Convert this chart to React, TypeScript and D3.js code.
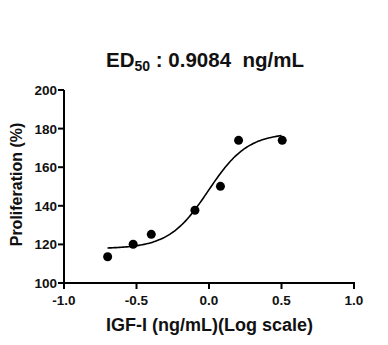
import React from "react";
import * as d3 from "d3";

const concLog: number[] = [-0.699, -0.523, -0.398, -0.097, 0.079, 0.204, 0.505];
const proliferation: number[] = [113.6, 120.1, 125.2, 137.7, 150.1, 173.9, 173.9];
const xTicks: number[] = [-1.0, -0.5, 0.0, 0.5, 1.0];
const yTicks: number[] = [100, 120, 140, 160, 180, 200];
// 4PL fit parameters
const fitBottom = 117.8;
const fitTop = 177.8;
const fitLogEC50 = -0.005;
const fitHill = 3.2;
const fitRange: [number, number] = [-0.7, 0.5];

const W = 388, H = 345;
const FONT = "'Liberation Sans', Arial, sans-serif";

export default function App() {
  const x = d3.scaleLinear().domain([-1, 1]).range([64, 354]);
  const y = d3.scaleLinear().domain([100, 200]).range([283, 90]);
  const fit = (v: number) => fitBottom + (fitTop - fitBottom) / (1 + Math.pow(10, (fitLogEC50 - v) * fitHill));
  const curvePts = d3.range(0, 101).map(i => {
    const v = fitRange[0] + (fitRange[1] - fitRange[0]) * i / 100;
    return [v, fit(v)] as [number, number];
  });
  const line = d3.line<[number, number]>().x(d => x(d[0])).y(d => y(d[1])).curve(d3.curveMonotoneX);
  return (
    <svg width={W} height={H} style={{ position: "absolute", left: 0, top: 0, background: "#fff" }} fontFamily={FONT}>
      <rect x={0} y={0} width={W} height={H} fill="#fff" />
      <text x={205} y={67} textAnchor="middle" fontSize={20.5} fontWeight="bold" fill="#111" xmlSpace="preserve">
        ED<tspan fontSize={14} dy={4}>50</tspan><tspan dy={-4}>{" : 0.9084\u00a0 ng/mL"}</tspan>
      </text>
      {/* y axis */}
      <line x1={64} x2={64} y1={y(200)} y2={y(100) + 1} stroke="#000" strokeWidth={2} />
      {yTicks.map(t => (
        <g key={t}>
          <line x1={58} x2={64} y1={y(t)} y2={y(t)} stroke="#000" strokeWidth={2} />
          <text x={57} y={y(t) + 5} textAnchor="end" fontSize={13.5} fontWeight="bold" fill="#111">{t}</text>
        </g>
      ))}
      {/* x axis */}
      <line x1={63} x2={x(1) + 1} y1={283} y2={283} stroke="#000" strokeWidth={2} />
      {xTicks.map(t => (
        <g key={t}>
          <line x1={x(t)} x2={x(t)} y1={283} y2={289} stroke="#000" strokeWidth={2} />
          <text x={x(t)} y={305} textAnchor="middle" fontSize={13.5} fontWeight="bold" fill="#111">{t.toFixed(1)}</text>
        </g>
      ))}
      <text x={209.5} y={331} textAnchor="middle" fontSize={18} fontWeight="bold" fill="#111">IGF-I (ng/mL)(Log scale)</text>
      <text transform={`translate(22,184.5) rotate(-90)`} textAnchor="middle" fontSize={16} fontWeight="bold" fill="#111">Proliferation (%)</text>
      <path d={line(curvePts) || ""} fill="none" stroke="#000" strokeWidth={1.6} />
      {concLog.map((c, i) => (
        <circle key={i} cx={x(c)} cy={y(proliferation[i])} r={4.5} fill="#000" />
      ))}
    </svg>
  );
}
